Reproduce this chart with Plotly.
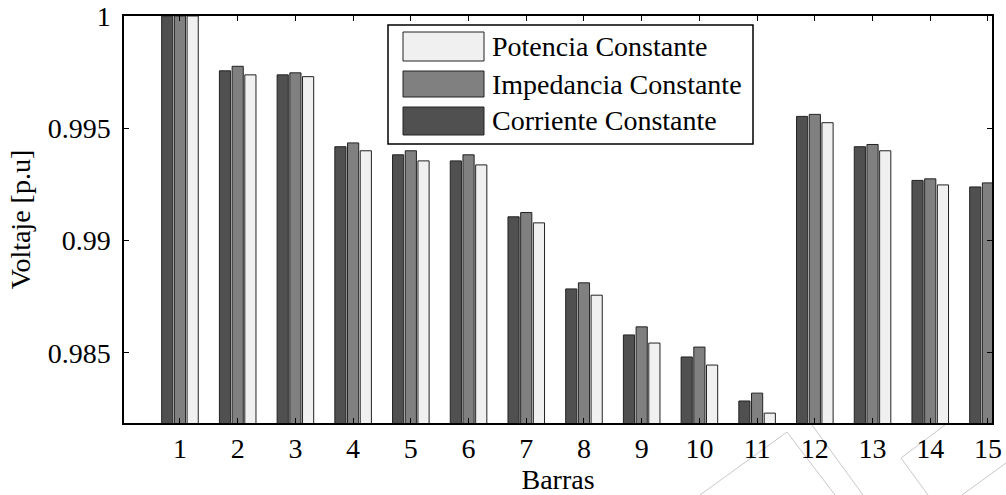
import plotly.graph_objects as go

barras = list(range(1, 16))
corriente = [1.0, 0.99756, 0.99738, 0.99418, 0.99382, 0.99355, 0.99106, 0.98785,
             0.98580, 0.98482, 0.98286, 0.99553, 0.99418, 0.99268, 0.99239]
impedancia = [1.0, 0.99776, 0.99747, 0.99435, 0.99400, 0.99382, 0.99125, 0.98812,
              0.98616, 0.98526, 0.98321, 0.99562, 0.99428, 0.99275, 0.99257]
potencia = [1.0, 0.99738, 0.99730, 0.99400, 0.99355, 0.99337, 0.99079, 0.98757,
            0.98544, 0.98446, 0.98232, 0.99525, 0.99400, 0.99248, 0.99225]
ytick_vals = [0.985, 0.99, 0.995, 1.0]
ytick_text = ["0.985", "0.99", "0.995", "1"]

series = [("Corriente Constante", corriente, "#505050"),
          ("Impedancia Constante", impedancia, "#808080"),
          ("Potencia Constante", potencia, "#f0f0f0")]

FONT = "Liberation Serif, Times New Roman, serif"
FS = 28

fig = go.Figure()
for name, vals, col in series:
    fig.add_trace(go.Bar(x=barras, y=vals, name=name, showlegend=False,
                         marker=dict(color=col, line=dict(color="#222222", width=1))))

W, H = 1006, 495
L, R, T, B = 124, 992, 16, 423
def px(xp, yp):
    return (xp - L) / (R - L), (B - yp) / (B - T)

shapes = []
annotations = []

# decorative light-grey lines below the axes (present in the reference image)
segs = [((700, 495), (787, 432)), ((787, 432), (835, 495)),
        ((812, 425), (863, 495)), ((945, 425), (901, 458)),
        ((901, 458), (928, 495)), ((1006, 463), (962, 495))]
for (a, b) in segs:
    x0, y0 = px(*a)
    x1, y1 = px(*b)
    shapes.append(dict(type="line", xref="paper", yref="paper", x0=x0, y0=y0, x1=x1, y1=y1,
                       line=dict(color="#c8c8c8", width=1), layer="below"))

# legend box (MATLAB style: wide swatches), entries listed in reverse order
bx0, by0 = px(388, 25)
bx1, by1 = px(753, 144)
shapes.append(dict(type="rect", xref="paper", yref="paper", x0=bx0, y0=by0, x1=bx1, y1=by1,
                   line=dict(color="black", width=1.5), fillcolor="white", layer="above"))
rows = [(32, 61), (71, 97), (107, 135)]
for (name, vals, col), (t, b) in zip(reversed(series), rows):
    sx0, sy0 = px(403, t)
    sx1, sy1 = px(484, b)
    shapes.append(dict(type="rect", xref="paper", yref="paper", x0=sx0, y0=sy0, x1=sx1, y1=sy1,
                       line=dict(color="#222222", width=1), fillcolor=col, layer="above"))
    tx, ty = px(490, (t + b) / 2)
    annotations.append(dict(text=name, xref="paper", yref="paper", x=tx, y=ty,
                            xanchor="left", yanchor="middle", showarrow=False,
                            font=dict(family=FONT, size=FS, color="black")))

fig.update_layout(
    width=W, height=H,
    margin=dict(l=L, r=W - R, t=T, b=H - B),
    plot_bgcolor="white", paper_bgcolor="white",
    barmode="group", bargap=0.34, bargroupgap=0.12,
    font=dict(family=FONT, size=FS, color="black"),
    showlegend=False,
    shapes=shapes, annotations=annotations,
    xaxis=dict(range=[0.03, 15.07], tickvals=barras, ticktext=[str(b) for b in barras],
               ticks="inside", ticklen=5, tickcolor="black", showline=True, linecolor="black",
               linewidth=1.5, mirror="ticks", showgrid=False, zeroline=False, automargin=False,
               title=dict(text="Barras", font=dict(size=FS), standoff=12),
               tickfont=dict(size=FS)),
    yaxis=dict(range=[0.98188, 1.0], tickvals=ytick_vals, ticktext=ytick_text,
               ticks="inside", ticklen=5, tickcolor="black", showline=True, linecolor="black",
               linewidth=1.5, mirror="ticks", showgrid=False, zeroline=False, automargin=False,
               ticklabelstandoff=6,
               title=dict(text="Voltaje [p.u]", font=dict(size=FS), standoff=9),
               tickfont=dict(size=FS)),
)

fig.write_html("out.html")
